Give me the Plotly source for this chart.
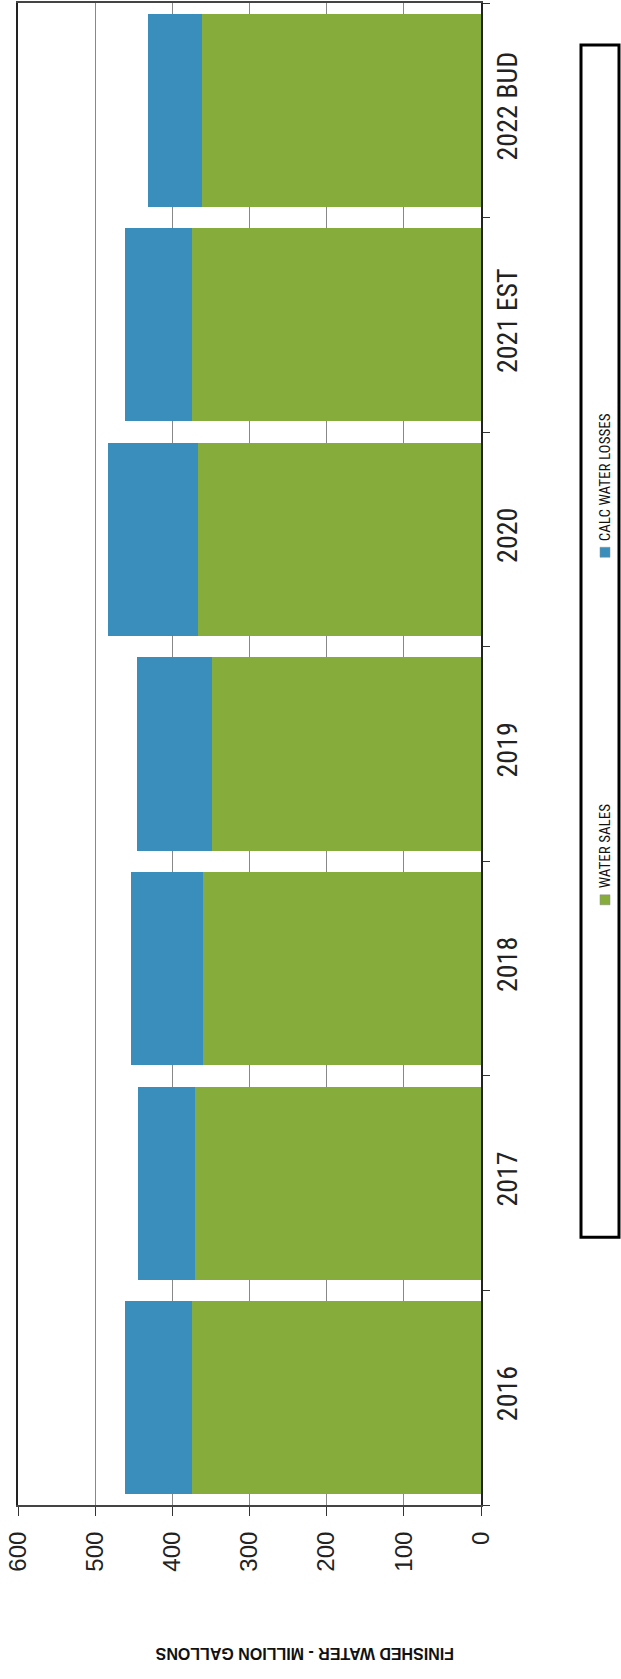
import plotly.graph_objects as go

categories = ["2016", "2017", "2018", "2019", "2020", "2021 EST", "2022 BUD"]
water_sales = [375, 371, 360, 348, 367, 374, 362]
calc_water_losses = [86, 73, 93, 98, 116, 87, 70]
value_ticks = [0, 100, 200, 300, 400, 500, 600]
series_names = ["WATER SALES", "CALC WATER LOSSES"]
axis_title = "FINISHED WATER - MILLION GALLONS"

GREEN = "#86AD3B"
BLUE = "#3A8EBB"
W, H = 621, 1679
L, R, T, B = 18, 140, 1, 174
PW, PH = W - L - R, H - T - B
NARROW = "Liberation Sans Narrow, Arial Narrow, Roboto Condensed, Liberation Sans, sans-serif"


def px(x):
    return (x - L) / PW


def py(y):
    return (H - B - y) / PH


fig = go.Figure()
fig.add_trace(go.Bar(y=categories, x=water_sales, orientation="h",
                     marker=dict(color=GREEN, line_width=0), name=series_names[0]))
fig.add_trace(go.Bar(y=categories, x=calc_water_losses, orientation="h",
                     marker=dict(color=BLUE, line_width=0), name=series_names[1]))

fig.update_layout(barmode="stack", bargap=0.1, width=W, height=H,
                  margin=dict(l=L, r=R, t=T, b=B), showlegend=False,
                  plot_bgcolor="white", paper_bgcolor="white")
fig.update_xaxes(range=[600, 0], tickvals=value_ticks, tickangle=-90,
                 ticks="outside", ticklen=9, tickcolor="#333", tickwidth=1,
                 ticklabelstandoff=6,
                 showgrid=True, gridcolor="#888", gridwidth=1,
                 showline=True, linecolor="#444", linewidth=2, mirror=True,
                 zeroline=False,
                 tickfont=dict(family="Liberation Sans, Arial, sans-serif", size=24, color="#222"))
fig.update_yaxes(side="right", tickangle=-90, ticks="outside", tickson="boundaries",
                 ticklen=7, tickcolor="#333", showline=True, linecolor="#222",
                 linewidth=2, mirror=True, showgrid=False,
                 categoryorder="array", categoryarray=categories,
                 tickfont=dict(family=NARROW, size=28, color="#222"))

# axis title (upside down, as in the rotated page)
fig.add_annotation(text="<b>" + axis_title + "</b>", textangle=180,
                   x=px(305), y=py(1653), xref="paper", yref="paper",
                   showarrow=False, xanchor="center", yanchor="middle",
                   font=dict(family="Liberation Sans, Arial, sans-serif", size=16, color="#111"))

# legend box
fig.add_shape(type="rect", xref="paper", yref="paper",
              x0=px(581), x1=px(619), y0=py(1237), y1=py(43),
              line=dict(color="black", width=3), fillcolor="rgba(0,0,0,0)")
legend_items = [(series_names[0], GREEN, 899), (series_names[1], BLUE, 551)]
for name, col, ysq in legend_items:
    fig.add_shape(type="rect", xref="paper", yref="paper",
                  x0=px(600), x1=px(610), y0=py(ysq + 5), y1=py(ysq - 5),
                  fillcolor=col, line=dict(color="#888", width=0.5))
    fig.add_annotation(text=name, textangle=-90, x=px(605), y=py(ysq - 9),
                       xref="paper", yref="paper", showarrow=False,
                       xanchor="center", yanchor="bottom",
                       font=dict(family=NARROW, size=15, color="#111"))

fig.write_html("out.html")
